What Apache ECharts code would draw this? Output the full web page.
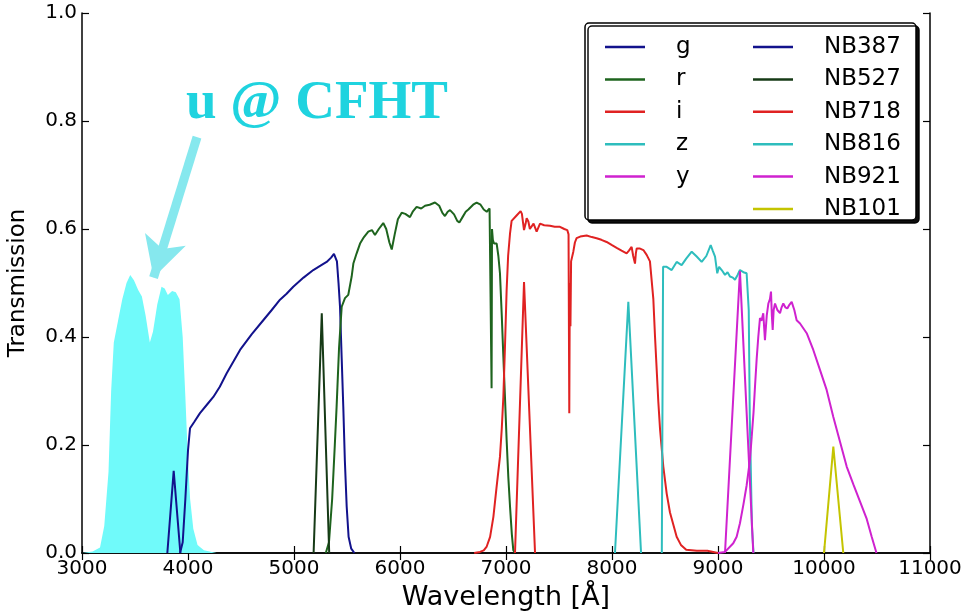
<!DOCTYPE html>
<html>
<head>
<meta charset="utf-8">
<title>Filter transmission</title>
<script src="https://cdn.jsdelivr.net/npm/echarts@6/dist/echarts.min.js"></script>
<style>
  html, body { margin: 0; padding: 0; background: #fff; }
  #chart { width: 972px; height: 611px; }
</style>
</head>
<body>
<div id="chart"></div>
<script>
// --- data: [wavelength Å, transmission] ---
const xTicks = [3000, 4000, 5000, 6000, 7000, 8000, 9000, 10000, 11000]
const yTicks = [0, 0.2, 0.4, 0.6, 0.8, 1.0]

const bandU = [[3000,0],[3100,0.003],[3170,0.01],[3210,0.05],[3250,0.15],[3275,0.3],[3300,0.39],[3340,0.43],[3380,0.47],[3420,0.5],[3455,0.515],[3490,0.505],[3530,0.487],[3565,0.475],[3600,0.44],[3640,0.39],[3670,0.41],[3710,0.46],[3750,0.493],[3780,0.49],[3810,0.478],[3850,0.485],[3885,0.483],[3920,0.47],[3950,0.4],[3975,0.29],[4000,0.17],[4020,0.1],[4050,0.045],[4090,0.015],[4150,0.005],[4270,0]]

const bandG = [[3925,0],[3950,0.02],[3975,0.1],[4000,0.19],[4019,0.231],[4060,0.243],[4113,0.259],[4180,0.275],[4239,0.289],[4300,0.308],[4365,0.333],[4430,0.355],[4491,0.376],[4600,0.405],[4710,0.431],[4790,0.45],[4868,0.469],[4930,0.48],[4993,0.493],[5090,0.51],[5182,0.524],[5250,0.532],[5308,0.539],[5350,0.547],[5377,0.554],[5405,0.54],[5420,0.5],[5434,0.456],[5450,0.36],[5465,0.271],[5480,0.17],[5497,0.086],[5515,0.03],[5540,0.008],[5570,0]]

const bandR = [[5300,0],[5330,0.02],[5360,0.1],[5385,0.2],[5402,0.271],[5425,0.38],[5450,0.456],[5481,0.472],[5512,0.478],[5544,0.512],[5560,0.536],[5591,0.555],[5623,0.573],[5660,0.585],[5701,0.595],[5735,0.598],[5764,0.589],[5800,0.6],[5842,0.611],[5870,0.6],[5900,0.575],[5922,0.562],[5950,0.59],[5980,0.618],[6016,0.63],[6050,0.628],[6094,0.622],[6120,0.632],[6157,0.641],[6200,0.638],[6236,0.643],[6280,0.645],[6330,0.649],[6370,0.643],[6400,0.63],[6424,0.624],[6450,0.632],[6472,0.635],[6510,0.627],[6540,0.615],[6560,0.612],[6590,0.622],[6620,0.632],[6645,0.636],[6690,0.645],[6723,0.649],[6760,0.645],[6790,0.636],[6818,0.632],[6845,0.638],[6858,0.636],[6864,0.305],[6868,0.6],[6876,0.58],[6887,0.573],[6912,0.573],[6928,0.55],[6943,0.518],[6960,0.44],[6975,0.364],[6990,0.29],[7006,0.209],[7022,0.14],[7038,0.086],[7055,0.035],[7069,0.005],[7085,0]]

const bandI = [[6700,0],[6755,0.002],[6790,0.005],[6818,0.012],[6850,0.03],[6881,0.067],[6910,0.12],[6943,0.178],[6960,0.23],[6975,0.289],[6990,0.38],[7006,0.487],[7020,0.55],[7038,0.592],[7053,0.615],[7069,0.617],[7100,0.625],[7138,0.633],[7150,0.628],[7170,0.598],[7185,0.61],[7195,0.62],[7211,0.614],[7225,0.6],[7242,0.601],[7260,0.61],[7289,0.595],[7321,0.61],[7360,0.607],[7415,0.606],[7460,0.604],[7509,0.604],[7550,0.6],[7578,0.598],[7590,0.59],[7597,0.259],[7602,0.5],[7608,0.42],[7614,0.54],[7635,0.558],[7650,0.575],[7666,0.583],[7700,0.586],[7761,0.588],[7810,0.585],[7855,0.583],[7900,0.58],[7949,0.576],[8000,0.57],[8044,0.565],[8090,0.56],[8138,0.555],[8160,0.56],[8185,0.567],[8200,0.55],[8217,0.536],[8225,0.555],[8233,0.564],[8260,0.564],[8296,0.561],[8327,0.552],[8358,0.54],[8390,0.47],[8406,0.4],[8437,0.28],[8453,0.23],[8484,0.16],[8516,0.11],[8547,0.075],[8610,0.03],[8650,0.015],[8700,0.006],[8800,0.004],[8900,0.004],[9000,0]]

const bandZ = [[8470,0],[8478,0],[8482,0.53],[8516,0.53],[8563,0.524],[8610,0.539],[8657,0.533],[8700,0.545],[8752,0.558],[8799,0.549],[8846,0.539],[8890,0.55],[8931,0.57],[8950,0.56],[8972,0.549],[8993,0.518],[9010,0.53],[9035,0.524],[9066,0.515],[9090,0.52],[9113,0.512],[9140,0.51],[9160,0.506],[9185,0.515],[9207,0.524],[9240,0.52],[9270,0.518],[9290,0.45],[9300,0.25],[9320,0.05],[9335,0]]

const bandY = [[9000,0],[9066,0.002],[9144,0.018],[9176,0.03],[9207,0.055],[9240,0.09],[9270,0.125],[9300,0.17],[9318,0.215],[9335,0.26],[9349,0.308],[9365,0.36],[9380,0.4],[9396,0.435],[9410,0.43],[9427,0.444],[9443,0.394],[9460,0.44],[9475,0.462],[9490,0.47],[9500,0.484],[9508,0.44],[9516,0.413],[9525,0.45],[9538,0.462],[9560,0.45],[9585,0.444],[9600,0.455],[9616,0.462],[9635,0.455],[9654,0.453],[9675,0.46],[9695,0.465],[9720,0.45],[9742,0.431],[9774,0.425],[9837,0.407],[9899,0.376],[9962,0.339],[10025,0.302],[10088,0.252],[10151,0.206],[10214,0.16],[10277,0.127],[10340,0.095],[10403,0.063],[10450,0.03],[10495,0]]

const nb387 = [[3805,0],[3865,0.152],[3928,0]]
const nb527 = [[5185,0],[5262,0.444],[5332,0]]
const nb718 = [[7085,0],[7170,0.502],[7274,0]]
const nb816 = [[8028,0],[8154,0.465],[8274,0]]
const nb921 = [[9066,0],[9207,0.522],[9333,0]]
const nb101 = [[10000,0],[10088,0.197],[10182,0]]

// arrow from the "u @ CFHT" label down to the u band
const arrowFrom = [4085, 0.77]
const arrowTo = [3675, 0.51]

const broadNames = ['g', 'r', 'i', 'z', 'y']
const narrowNames = ['NB387', 'NB527', 'NB718', 'NB816', 'NB921', 'NB101']

const colors = {
  g: '#12128c', r: '#1e641e', i: '#e02222', z: '#2ebdbd', y: '#cf22cf',
  NB387: '#12128c', NB527: '#163a16', NB718: '#e02222', NB816: '#2ebdbd', NB921: '#cf22cf', NB101: '#c4c400',
}

const FONT = '"DejaVu Sans", sans-serif'

function lineSeries(name, data) {
  return {
    name,
    type: 'line',
    data,
    symbol: 'none',
    smooth: false,
    color: colors[name],
    lineStyle: { color: colors[name], width: 2 },
    z: 3,
  }
}

const chart = echarts.init(document.getElementById('chart'))

const axisCommon = {
  min: 3000,
  max: 11000,
  interval: 1000,
  axisLine: { show: true, lineStyle: { color: '#000', width: 1.5 } },
  axisTick: { show: true, inside: true, length: 7, lineStyle: { color: '#000', width: 1.2 } },
  splitLine: { show: false },
}

const yCommon = {
  min: 0,
  max: 1,
  interval: 0.2,
  axisLine: { show: true, lineStyle: { color: '#000', width: 1.5 } },
  axisTick: { show: true, inside: true, length: 7, lineStyle: { color: '#000', width: 1.2 } },
  splitLine: { show: false },
}

const legendText = { color: '#000', fontFamily: FONT, fontSize: 23, lineHeight: 24, padding: [0, 0, 0, 26] }

// legend entries are plain short line samples
const legendCommon = {
  orient: 'vertical',
  top: 30,
  icon: 'rect',
  itemWidth: 40,
  itemHeight: 2.5,
  itemGap: 8.4,
  selectedMode: false,
  textStyle: legendText,
  z: 6,
}

chart.setOption({
  animation: false,
  backgroundColor: '#fff',
  // fixed plot box, do not shrink it to fit the labels
  grid: { left: 82, right: 42, top: 13, bottom: 58, outerBoundsMode: 'none', containLabel: false },
  xAxis: [
    {
      ...axisCommon,
      type: 'value',
      position: 'bottom',
      name: 'Wavelength [Å]',
      nameLocation: 'middle',
      nameGap: 31,
      nameTextStyle: { color: '#000', fontFamily: FONT, fontSize: 27 },
      axisLabel: { color: '#000', fontFamily: FONT, fontSize: 20, margin: 6,
        formatter: (v) => (xTicks.includes(v) ? String(v) : '') },
    },
    { ...axisCommon, type: 'value', position: 'top', axisLabel: { show: false } },
  ],
  yAxis: [
    {
      ...yCommon,
      type: 'value',
      position: 'left',
      name: 'Transmission',
      nameLocation: 'middle',
      nameGap: 52,
      nameTextStyle: { color: '#000', fontFamily: FONT, fontSize: 23 },
      axisLabel: { color: '#000', fontFamily: FONT, fontSize: 20, margin: 5,
        formatter: (v) => (yTicks.some((t) => Math.abs(t - v) < 1e-9) ? v.toFixed(1) : '') },
    },
    { ...yCommon, type: 'value', position: 'right', axisLabel: { show: false } },
  ],
  legend: [
    { ...legendCommon, data: broadNames, left: 600 },
    { ...legendCommon, data: narrowNames, left: 748 },
  ],
  graphic: [
    {
      // legend frame with the drop shadow
      type: 'rect',
      z: 5,
      shape: { x: 585, y: 23, width: 331, height: 197, r: 4 },
      style: {
        fill: '#fff', stroke: '#000', lineWidth: 1.5,
        shadowColor: 'rgba(0,0,0,0.95)', shadowOffsetX: 3, shadowOffsetY: 3, shadowBlur: 0,
      },
    },
    {
      type: 'text',
      z: 6,
      left: 186,
      top: 76,
      style: {
        text: 'u @ CFHT',
        fill: '#1fd3df',
        font: 'bold 55px "Liberation Serif", "DejaVu Serif", serif',
      },
    },
  ],
  series: [
    {
      name: 'u',
      type: 'line',
      data: bandU,
      symbol: 'none',
      lineStyle: { width: 0 },
      color: '#70fafa',
      areaStyle: { color: '#70fafa', opacity: 1 },
      z: 1,
      markLine: {
        silent: true,
        symbol: ['none', 'arrow'],
        symbolSize: [32, 40],
        label: { show: false },
        lineStyle: { color: '#86e8ee', width: 9, type: 'solid' },
        data: [[{ coord: arrowFrom }, { coord: arrowTo }]],
      },
    },
    lineSeries('g', bandG),
    lineSeries('r', bandR),
    lineSeries('i', bandI),
    lineSeries('z', bandZ),
    lineSeries('y', bandY),
    lineSeries('NB387', nb387),
    lineSeries('NB527', nb527),
    lineSeries('NB718', nb718),
    lineSeries('NB816', nb816),
    lineSeries('NB921', nb921),
    lineSeries('NB101', nb101),
  ],
})
</script>
</body>
</html>
